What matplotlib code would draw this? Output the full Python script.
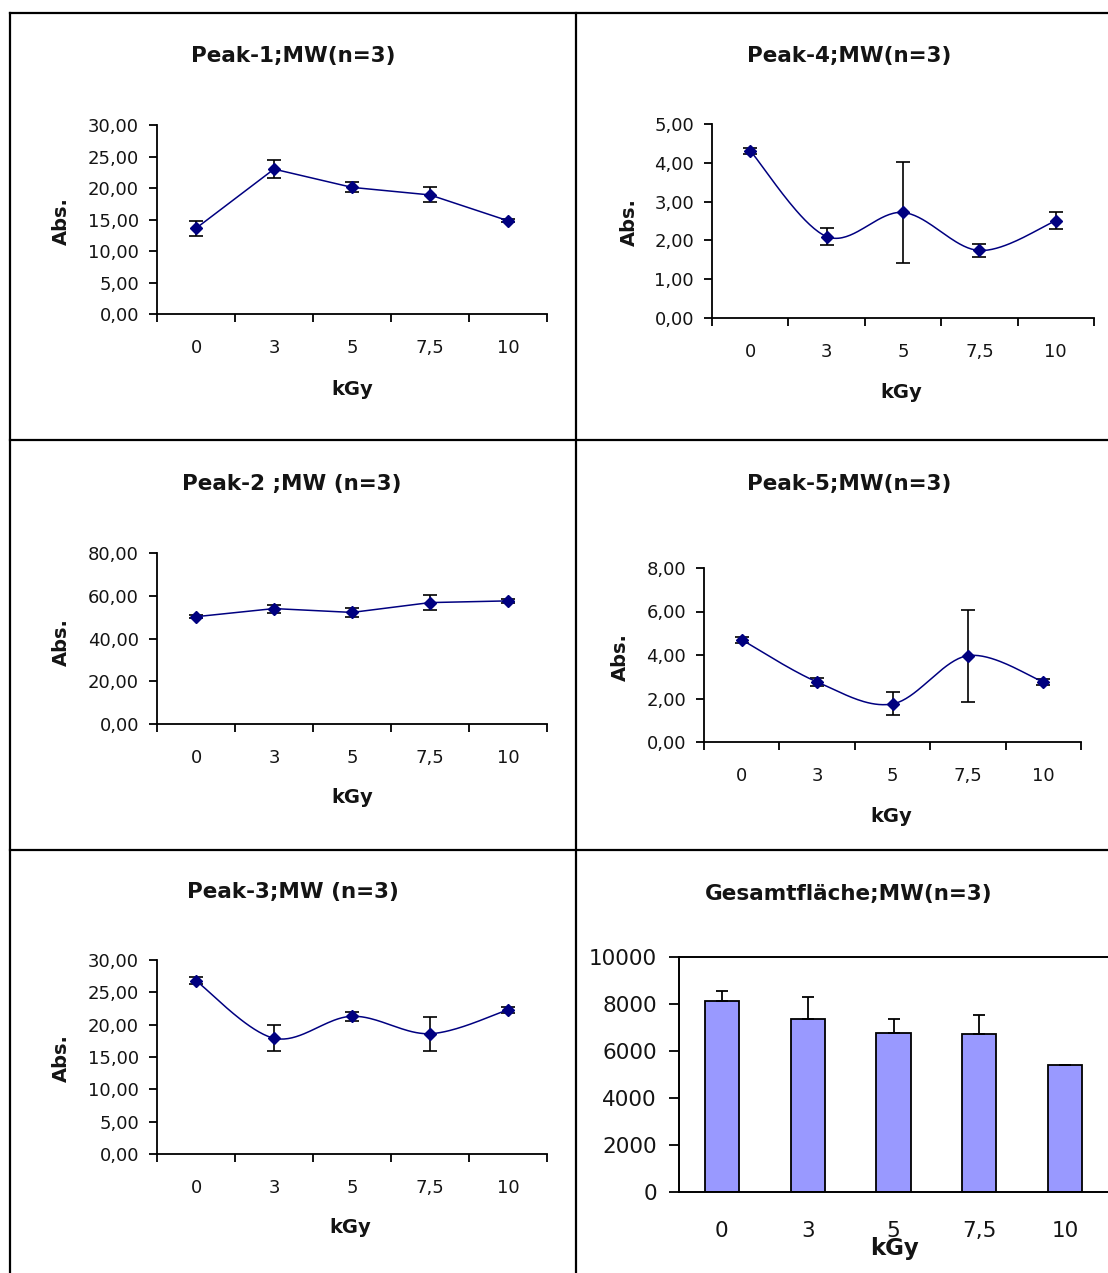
import numpy as np
import matplotlib
matplotlib.use("Agg")
import matplotlib.pyplot as plt
from matplotlib.lines import Line2D
from matplotlib.ticker import FixedLocator, FuncFormatter

W, H = 1108, 1273
DPI = 100

# Dose categories (kGy)
doses = ["0", "3", "5", "7,5", "10"]

# Mean values (MW, n=3) and standard deviations per peak
peak1_mean = [13.6, 23.0, 20.1, 18.9, 14.8]
peak1_err = [1.2, 1.4, 0.8, 1.2, 0.25]

peak2_mean = [50.2, 54.0, 52.2, 56.8, 57.6]
peak2_err = [0.8, 1.9, 2.3, 3.4, 0.8]

peak3_mean = [26.8, 17.9, 21.3, 18.6, 22.3]
peak3_err = [0.5, 2.0, 0.7, 2.6, 0.5]

peak4_mean = [4.31, 2.10, 2.72, 1.74, 2.51]
peak4_err = [0.08, 0.21, 1.31, 0.17, 0.21]

peak5_mean = [4.70, 2.76, 1.75, 3.97, 2.76]
peak5_err = [0.15, 0.19, 0.53, 2.12, 0.12]

total_mean = [8130, 7380, 6780, 6710, 5420]
total_err = [440, 935, 595, 835, 0]

NAVY = "#000080"
TXT = "#141414"


def fx(x):
    return x / W


def fy(y):
    return 1 - y / H


def add_axes_px(left, top, right, bottom):
    return fig.add_axes([fx(left), fy(bottom), (right - left) / W, (bottom - top) / H])


def smooth_curve(y, n=40):
    """Bezier smoothing through the points (category index as x)."""
    x = np.arange(len(y), dtype=float)
    y = np.asarray(y, dtype=float)
    pts = np.column_stack([x, y])
    out = []
    for i in range(len(pts) - 1):
        p0 = pts[max(i - 1, 0)]
        p1 = pts[i]
        p2 = pts[i + 1]
        p3 = pts[min(i + 2, len(pts) - 1)]
        c1 = p1 + (p2 - p0) / 6.0
        c2 = p2 - (p3 - p1) / 6.0
        t = np.linspace(0, 1, n)[:, None]
        seg = ((1 - t) ** 3) * p1 + 3 * ((1 - t) ** 2) * t * c1 + 3 * (1 - t) * t ** 2 * c2 + t ** 3 * p2
        if i > 0:
            seg = seg[1:]
        out.append(seg)
    out = np.vstack(out)
    return out[:, 0], out[:, 1]


def comma_fmt(v, pos):
    return f"{v:.2f}".replace(".", ",")


def line_panel(box, title, title_pos, xlabel_pos, ylabel_pos, mean, err, ymax, ystep, smooth):
    ax = add_axes_px(*box)
    x = np.arange(len(mean))
    if smooth:
        sx, sy = smooth_curve(mean)
    else:
        sx, sy = x, np.asarray(mean)
    ax.plot(sx, sy, color=NAVY, lw=1.1, zorder=3)
    ax.errorbar(x, mean, yerr=err, fmt="none", ecolor="black", elinewidth=1.2,
                capsize=5.2, capthick=1.2, zorder=2)
    ax.plot(x, mean, ls="none", marker="D", ms=6.5, color=NAVY, zorder=4)

    ax.set_xlim(-0.5, len(mean) - 0.5)
    ax.set_ylim(0, ymax)
    ax.yaxis.set_major_locator(FixedLocator(np.arange(0, ymax + ystep / 2, ystep)))
    ax.yaxis.set_major_formatter(FuncFormatter(comma_fmt))

    ax.xaxis.set_major_locator(FixedLocator(np.arange(-0.5, len(mean), 1.0)))
    ax.xaxis.set_minor_locator(FixedLocator(x))
    ax.set_xticklabels([], minor=False)
    ax.set_xticklabels(doses, minor=True)

    for s in ("top", "right"):
        ax.spines[s].set_visible(False)
    for s in ("left", "bottom"):
        ax.spines[s].set_linewidth(1.3)
        ax.spines[s].set_color("black")

    ax.tick_params(axis="y", direction="out", length=6, width=1.3, pad=7,
                   labelsize=13, labelcolor=TXT)
    ax.tick_params(axis="x", which="major", direction="out", length=6, width=1.3)
    ax.tick_params(axis="x", which="minor", length=0, pad=18, labelsize=13, labelcolor=TXT)
    ax.patch.set_alpha(0)

    fig.text(fx(title_pos[0]), fy(title_pos[1]), title, ha="center", va="baseline",
             fontsize=15.5, fontweight="bold", color=TXT)
    fig.text(fx(xlabel_pos[0]), fy(xlabel_pos[1]), "kGy", ha="center", va="baseline",
             fontsize=14, fontweight="bold", color=TXT)
    fig.text(fx(ylabel_pos[0]), fy(ylabel_pos[1]), "Abs.", ha="center", va="center",
             rotation=90, fontsize=14, fontweight="bold", color=TXT)
    return ax


plt.rcParams["font.family"] = ["DejaVu Sans"]
fig = plt.figure(figsize=(W / DPI, H / DPI), dpi=DPI)
fig.patch.set_facecolor("white")

# Panel frame lines
frame_kw = dict(color="black", lw=1.6, transform=fig.transFigure)
fig.add_artist(Line2D([fx(10), fx(W)], [fy(13), fy(13)], **frame_kw))
fig.add_artist(Line2D([fx(10), fx(W)], [fy(440), fy(440)], **frame_kw))
fig.add_artist(Line2D([fx(10), fx(W)], [fy(850), fy(850)], **frame_kw))
fig.add_artist(Line2D([fx(10), fx(10)], [fy(13), fy(H)], **frame_kw))
fig.add_artist(Line2D([fx(576), fx(576)], [fy(13), fy(H)], **frame_kw))

line_panel((157, 125, 547, 314), "Peak-1;MW(n=3)", (293, 62), (352, 395), (61, 221),
           peak1_mean, peak1_err, 30, 5, smooth=False)
line_panel((712, 124, 1094, 318), "Peak-4;MW(n=3)", (849, 62), (901, 398), (629, 222),
           peak4_mean, peak4_err, 5, 1, smooth=True)
line_panel((157, 553, 547, 724), "Peak-2 ;MW (n=3)", (292, 490), (352, 803), (61, 642),
           peak2_mean, peak2_err, 80, 20, smooth=False)
line_panel((704, 568, 1081, 742), "Peak-5;MW(n=3)", (849, 490), (891, 822), (620, 657),
           peak5_mean, peak5_err, 8, 2, smooth=True)
line_panel((157, 960, 547, 1154), "Peak-3;MW (n=3)", (293, 898), (350, 1233), (61, 1058),
           peak3_mean, peak3_err, 30, 5, smooth=True)

# Total area bar chart
axb = add_axes_px(679, 957, 1108, 1192)
xb = np.arange(len(total_mean))
axb.bar(xb, total_mean, width=0.4, color="#9999FF", edgecolor="black", linewidth=1.3, zorder=2)
axb.errorbar(xb, total_mean, yerr=[np.zeros(len(total_err)), total_err], fmt="none",
             ecolor="black", elinewidth=1.3, capsize=4.5, capthick=1.3, zorder=3)
axb.set_xlim(-0.5, len(total_mean) - 0.5)
axb.set_ylim(0, 10000)
axb.yaxis.set_major_locator(FixedLocator(np.arange(0, 10001, 2000)))
axb.yaxis.set_major_formatter(FuncFormatter(lambda v, p: f"{int(v)}"))
axb.set_xticks(xb)
axb.set_xticklabels(doses)
axb.spines["right"].set_visible(False)
for s in ("top", "left", "bottom"):
    axb.spines[s].set_linewidth(1.4)
    axb.spines[s].set_color("black")
axb.tick_params(axis="y", direction="out", length=7, width=1.3, pad=9, labelsize=15.5,
                labelcolor=TXT)
axb.tick_params(axis="x", length=0, pad=21, labelsize=15.5, labelcolor=TXT)
axb.patch.set_alpha(0)
fig.text(fx(849), fy(900), "Gesamtfläche;MW(n=3)", ha="center", va="baseline",
         fontsize=15.5, fontweight="bold", color=TXT)
fig.text(fx(895), fy(1255), "kGy", ha="center", va="baseline",
         fontsize=16.5, fontweight="bold", color=TXT)

fig.savefig("out.png", dpi=DPI, facecolor="white")
